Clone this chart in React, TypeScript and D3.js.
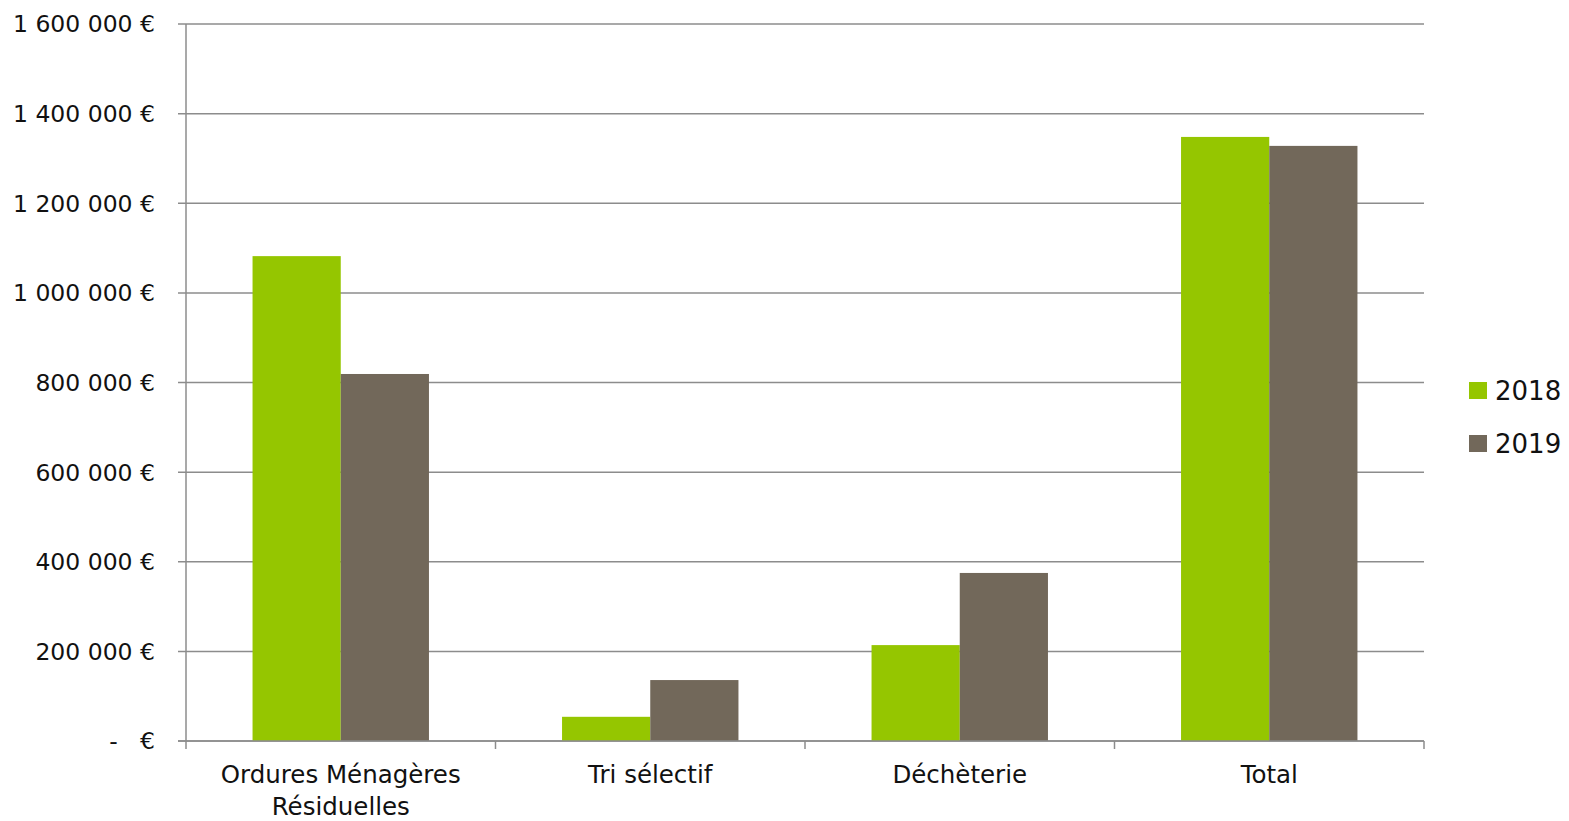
import { useMemo } from 'react';
import * as d3 from 'd3';

// Coût des déchets par filière, 2018 vs 2019 (en euros)
const categories = ['Ordures Ménagères Résiduelles', 'Tri sélectif', 'Déchèterie', 'Total'];
const series = ['2018', '2019'];
const values2018 = [1082000, 54000, 214000, 1348000];
const values2019 = [819000, 136000, 375000, 1328000];
const yTicks = [0, 200000, 400000, 600000, 800000, 1000000, 1200000, 1400000, 1600000];
const colors = ['#95c600', '#72685a'];

const FONT = "'DejaVu Sans', 'Noto Sans', sans-serif";

const W = 1569;
const H = 821;
const margin = { top: 24, right: 145, bottom: 80, left: 186 };

function fmtEuro(v: number) {
  if (v === 0) return '-   €';
  return d3.format(',')(v).replace(/,/g, ' ') + ' €';
}

// Category labels wrap onto two lines where the original does
function splitLabel(label: string) {
  if (label === 'Ordures Ménagères Résiduelles') return ['Ordures Ménagères', 'Résiduelles'];
  return [label];
}

export default function App() {
  const innerW = W - margin.left - margin.right;
  const innerH = H - margin.top - margin.bottom;

  const x0 = useMemo(
    () => d3.scaleBand<string>().domain(categories).range([0, innerW]).paddingInner(0.43).paddingOuter(0.215),
    [innerW]
  );
  const xBounds = useMemo(() => d3.scaleBand<string>().domain(categories).range([0, innerW]), [innerW]);
  const x1 = useMemo(() => d3.scaleBand<string>().domain(series).range([0, x0.bandwidth()]), [x0]);
  const y = useMemo(() => d3.scaleLinear().domain([0, 1600000]).range([innerH, 0]), [innerH]);

  const data = [values2018, values2019];

  return (
    <svg width={W} height={H} style={{ position: 'absolute', left: 0, top: 0, background: '#fff' }}>
      <g transform={`translate(${margin.left},${margin.top})`}>
        {/* gridlines + y ticks */}
        {yTicks.map((t) => (
          <g key={t} transform={`translate(0,${y(t)})`}>
            <line x1={-8} x2={innerW} stroke="#8c8c8c" strokeWidth={1.5} />
            <text
              x={-31}
              dy="0.36em"
              textAnchor="end"
              fontFamily={FONT}
              fontSize={23.5}
              fill="#111"
              style={{ whiteSpace: 'pre' }}
            >
              {fmtEuro(t)}
            </text>
          </g>
        ))}

        {/* bars */}
        {categories.map((c, i) => (
          <g key={c} transform={`translate(${x0(c)},0)`}>
            {series.map((s, j) => (
              <rect
                key={s}
                x={x1(s)}
                y={y(data[j][i])}
                width={x1.bandwidth()}
                height={innerH - y(data[j][i])}
                fill={colors[j]}
              />
            ))}
          </g>
        ))}

        {/* axes */}
        <line x1={0} x2={0} y1={0} y2={innerH} stroke="#8c8c8c" strokeWidth={1.5} />
        <line x1={-8} x2={innerW} y1={innerH} y2={innerH} stroke="#8c8c8c" strokeWidth={1.5} />
        {categories.map((c) => (
          <line
            key={c}
            x1={(xBounds(c) ?? 0) + xBounds.bandwidth()}
            x2={(xBounds(c) ?? 0) + xBounds.bandwidth()}
            y1={innerH}
            y2={innerH + 8}
            stroke="#8c8c8c"
            strokeWidth={1.5}
          />
        ))}
        <line x1={0} x2={0} y1={innerH} y2={innerH + 8} stroke="#8c8c8c" strokeWidth={1.5} />

        {/* category labels */}
        {categories.map((c) => {
          const cx = (xBounds(c) ?? 0) + xBounds.bandwidth() / 2;
          return (
            <text key={c} x={cx} y={innerH + 42} textAnchor="middle" fontFamily={FONT} fontSize={24.5} fill="#111">
              {splitLabel(c).map((line, k) => (
                <tspan key={k} x={cx} dy={k === 0 ? 0 : 32}>
                  {line}
                </tspan>
              ))}
            </text>
          );
        })}
      </g>

      {/* legend */}
      {series.map((s, j) => (
        <g key={s} transform={`translate(1469,${382 + j * 53})`}>
          <rect width={18} height={17} fill={colors[j]} />
          <text x={26} y={9} dy="0.36em" fontFamily={FONT} fontSize={26} fill="#111">
            {s}
          </text>
        </g>
      ))}
    </svg>
  );
}
